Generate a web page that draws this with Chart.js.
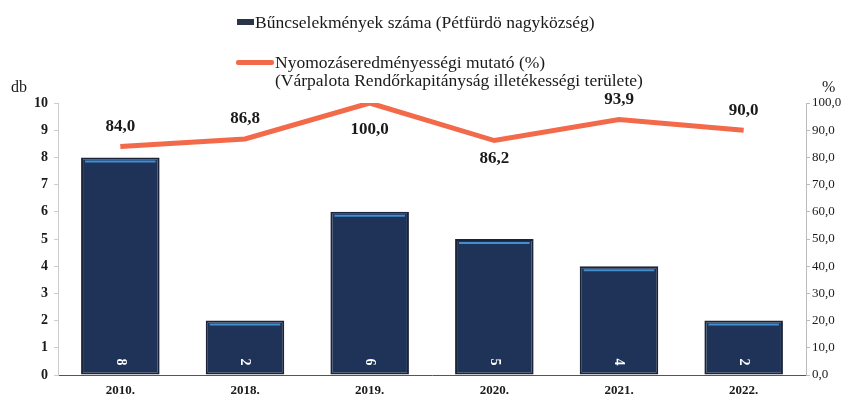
<!DOCTYPE html>
<html>
<head>
<meta charset="utf-8">
<script src="https://cdn.jsdelivr.net/npm/chart.js@4/dist/chart.umd.min.js"></script>
<style>
  body { margin: 0; background: #fff; font-family: "Liberation Serif", "Times New Roman", serif; }
  #wrap { position: relative; width: 844px; height: 403px; }
  canvas { position: absolute; left: 0; top: 0; }
  .leg { position: absolute; font-size: 17.5px; color: #1a1a1a; line-height: 18px; white-space: nowrap; }
  .sw { position: absolute; }
</style>
</head>
<body>
<div id="wrap">
  <canvas id="chart" width="844" height="403"></canvas>
  <div class="sw" style="left:237px;top:19px;width:17px;height:6px;background:#2a3548;"></div>
  <div class="leg" style="left:255px;top:13px;">Bűncselekmények száma (Pétfürdö nagyközség)</div>
  <div class="sw" style="left:236px;top:60px;width:38px;height:5px;background:#f26a4a;border-radius:2px;"></div>
  <div class="leg" style="left:275px;top:53px;">Nyomozáseredményességi mutató (%)<br>(Várpalota Rendőrkapitányság illetékességi területe)</div>
  <div class="leg" style="left:11px;top:78px;font-size:16px;">db</div>
  <div class="leg" style="left:822px;top:78px;font-size:16px;">%</div>
</div>
<script>
const years = ["2010.", "2018.", "2019.", "2020.", "2021.", "2022."];
const crimeCounts = [8, 2, 6, 5, 4, 2];
const clearanceRate = [84.0, 86.8, 100.0, 86.2, 93.9, 90.0];

// where the percent labels sit relative to the line point
const rateLabelOffset = [-20, -20, 27, 18, -20, -20];

const serif = "'Liberation Serif', 'Times New Roman', serif";

const labelPlugin = {
  id: "labels",
  afterDatasetsDraw(chart) {
    const ctx = chart.ctx;
    // light blue stripe on top of each bar + rotated count at the bottom
    const bars = chart.getDatasetMeta(0).data;
    bars.forEach((bar, i) => {
      const w = bar.width;
      const left = bar.x - w / 2;
      ctx.save();
      ctx.strokeStyle = "#3f8fd2";
      ctx.lineWidth = 2;
      ctx.beginPath();
      ctx.moveTo(left + 4, bar.y + 4);
      ctx.lineTo(left + w - 4, bar.y + 4);
      ctx.stroke();

      ctx.translate(bar.x, chart.scales.y.getPixelForValue(0) - 13);
      ctx.rotate(Math.PI / 2);
      ctx.fillStyle = "#ffffff";
      ctx.font = "bold 14px " + serif;
      ctx.textAlign = "center";
      ctx.textBaseline = "middle";
      ctx.fillText(String(crimeCounts[i]), 0, 0);
      ctx.restore();
    });

    // percent labels on the line
    const pts = chart.getDatasetMeta(1).data;
    ctx.save();
    ctx.fillStyle = "#1a1a1a";
    ctx.font = "bold 17px " + serif;
    ctx.textAlign = "center";
    ctx.textBaseline = "middle";
    pts.forEach((p, i) => {
      ctx.fillText(clearanceRate[i].toFixed(1).replace(".", ","), p.x, p.y + rateLabelOffset[i]);
    });
    ctx.restore();
  }
};

new Chart(document.getElementById("chart"), {
  data: {
    labels: years,
    datasets: [
      {
        type: "bar",
        label: "Bűncselekmények száma (Pétfürdö nagyközség)",
        data: crimeCounts,
        backgroundColor: "#1f3358",
        borderColor: "#1b2438",
        borderWidth: 2,
        borderSkipped: false,
        categoryPercentage: 1,
        barPercentage: 0.63,
        yAxisID: "y",
        order: 2
      },
      {
        type: "line",
        label: "Nyomozáseredményességi mutató (%)",
        data: clearanceRate,
        borderColor: "#f26a4a",
        borderWidth: 5,
        pointRadius: 0,
        tension: 0,
        yAxisID: "y1",
        order: 1
      }
    ]
  },
  options: {
    responsive: false,
    animation: false,
    layout: { padding: { top: 103, right: 0, left: 0, bottom: 0 } },
    plugins: { legend: { display: false }, tooltip: { enabled: false } },
    scales: {
      x: {
        grid: { display: false, drawTicks: false },
        border: { color: "#555", width: 1 },
        ticks: { color: "#1a1a1a", font: { family: serif, size: 13, weight: "bold" }, padding: 8 },
        afterFit: (s) => { s.height = 28; }
      },
      y: {
        position: "left",
        min: 0,
        max: 10,
        grid: { drawOnChartArea: false, tickLength: 4, color: "#ccc" },
        border: { color: "#ccc" },
        ticks: { stepSize: 1, color: "#1a1a1a", font: { family: serif, size: 14, weight: "bold" }, padding: 6 },
        afterFit: (s) => { s.width = 58; }
      },
      y1: {
        position: "right",
        min: 0,
        max: 100,
        grid: { drawOnChartArea: false, tickLength: 4, color: "#bbb" },
        border: { color: "#bbb" },
        ticks: {
          stepSize: 10,
          color: "#1a1a1a",
          font: { family: serif, size: 13 },
          padding: 2,
          callback: (v) => v.toFixed(1).replace(".", ",")
        },
        afterFit: (s) => { s.width = 38; }
      }
    }
  },
  plugins: [labelPlugin]
});
</script>
</body>
</html>
